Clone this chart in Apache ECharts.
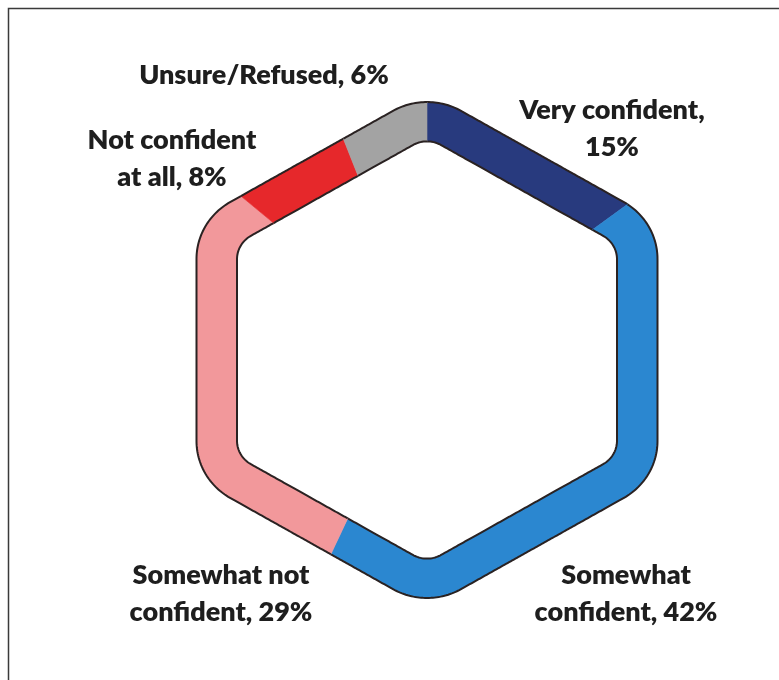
<!DOCTYPE html>
<html>
<head>
<meta charset="utf-8">
<script src="https://cdn.jsdelivr.net/npm/echarts/dist/echarts.min.js"></script>
<style>
  html, body { margin: 0; padding: 0; background: #ffffff; }
  #chart { width: 779px; height: 680px; }
</style>
</head>
<body>
<div id="chart"></div>
<script>
// Survey shares, clockwise from the top
const categories = ['Very confident', 'Somewhat\nconfident', 'Somewhat not\nconfident', 'Not confident\nat all', 'Unsure/Refused'];
const shares = [15, 42, 29, 8, 6];
const labelSeparators = [',\n', ', ', ', ', ', ', ', '];

// Presentation
const sliceColors = ['#283a7e', '#2b87d0', '#f2989b', '#e6282b', '#a3a3a3'];
const labelAnchors = [[612, 129], [626, 594], [221, 594], [172, 159], [264, 75]];

// Rounded hexagonal ring (pixels)
const CENTER = [427, 350];
const OUTER = { apothem: 230.5, corner: 68 };
const INNER = { apothem: 190, corner: 28 };
const SQUASH = 0.97;
const POLAR_RADIUS = 300;

// Distance from the centre to a pointy-top rounded hexagon along angle phi (radians, y up)
function hexRay(phi, a, r) {
  const step = Math.PI / 3;
  const k = Math.round(phi / step);
  const d = phi - k * step;
  const ap = a - r;
  const half = ap * Math.tan(Math.PI / 6);
  if (a * Math.abs(Math.tan(d)) <= half) return a / Math.cos(d);
  const ca = k * step + (d > 0 ? 1 : -1) * Math.PI / 6;
  const cr = ap / Math.cos(Math.PI / 6);
  const cx = cr * Math.cos(ca), cy = cr * Math.sin(ca);
  const vx = Math.cos(phi), vy = Math.sin(phi);
  const b = vx * cx + vy * cy;
  return b + Math.sqrt(b * b - cr * cr + r * r);
}

// Radial distance of the ring edge at a given share position (percent, clockwise from top)
function ringDist(p, shape) {
  const phi = Math.PI / 2 - p / 100 * 2 * Math.PI;
  const ux = Math.cos(phi), uy = Math.sin(phi);
  const bx = ux, by = uy / SQUASH;
  const len = Math.hypot(bx, by);
  const s = hexRay(Math.atan2(by, bx), shape.apothem, shape.corner);
  return s / len;
}

// Cumulative start/end of each slice
const sliceData = [];
let acc = 0;
shares.forEach((v, i) => {
  sliceData.push([acc, acc + v, i]);
  acc += v;
});

function renderSlice(params, api) {
  const i = params.dataIndex;
  const start = api.value(0), end = api.value(1);
  const n = Math.max(12, Math.ceil((end - start) * 8));
  const outer = [], inner = [];
  for (let j = 0; j <= n; j++) {
    const p = start + (end - start) * j / n;
    outer.push(api.coord([ringDist(p, OUTER), p]));
    inner.push(api.coord([ringDist(p, INNER), p]));
  }
  const anchor = labelAnchors[i];
  return {
    type: 'group',
    children: [
      {
        type: 'polygon',
        shape: { points: outer.concat(inner.slice().reverse()) },
        style: { fill: sliceColors[i], stroke: sliceColors[i], lineWidth: 0.6 }
      },
      {
        type: 'polyline',
        shape: { points: outer },
        style: { fill: null, stroke: '#2a2222', lineWidth: 2 }
      },
      {
        type: 'polyline',
        shape: { points: inner },
        style: { fill: null, stroke: '#2a2222', lineWidth: 2 }
      },
      {
        type: 'text',
        x: anchor[0],
        y: anchor[1],
        style: {
          text: categories[i] + labelSeparators[i] + shares[i] + '%',
          fill: '#1e1e1e',
          fontFamily: 'Lato',
          fontWeight: 800,
          fontSize: 27,
          lineHeight: 37,
          align: 'center',
          verticalAlign: 'middle'
        }
      }
    ]
  };
}

const chart = echarts.init(document.getElementById('chart'), null, { renderer: 'canvas' });
chart.setOption({
  animation: false,
  backgroundColor: '#ffffff',
  polar: { center: CENTER, radius: POLAR_RADIUS },
  radiusAxis: { type: 'value', min: 0, max: POLAR_RADIUS, show: false },
  angleAxis: { type: 'value', min: 0, max: 100, startAngle: 90, clockwise: true, show: false },
  graphic: [
    {
      type: 'polyline',
      shape: { points: [[8.5, 680], [8.5, 8.5], [779, 8.5]] },
      style: { fill: null, stroke: '#3a3a3a', lineWidth: 1.5 }
    }
  ],
  series: [
    {
      type: 'custom',
      coordinateSystem: 'polar',
      data: sliceData,
      renderItem: renderSlice
    }
  ]
});
</script>
</body>
</html>
